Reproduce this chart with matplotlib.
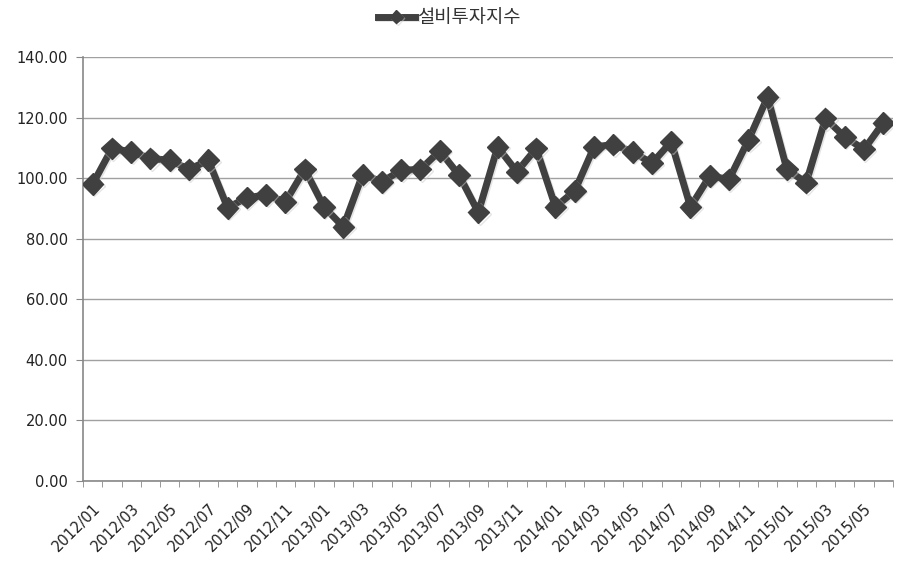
import matplotlib
matplotlib.use('Agg')
import matplotlib.pyplot as plt
import matplotlib.patheffects as pe
import numpy as np

# 월별 설비투자지수 (2012/01 ~ 2015/06)
months = [f'{y}/{m:02d}' for y in range(2012, 2016) for m in range(1, 13)][:42]
values = [98.0, 109.8, 108.7, 106.5, 105.9, 102.9, 105.9, 90.2, 93.6, 94.4,
          92.2, 102.9, 90.5, 83.9, 101.2, 98.8, 102.6, 102.9, 109.0, 101.0,
          88.7, 110.3, 102.1, 109.8, 90.5, 95.8, 110.3, 111.1, 108.7, 104.9,
          112.0, 90.5, 100.7, 99.6, 112.5, 126.8, 102.9, 98.5, 119.7, 113.6,
          109.5, 118.3]
series_name = '설비투자지수'
yticks = [0, 20, 40, 60, 80, 100, 120, 140]

plt.rcParams['font.family'] = ['Noto Sans CJK KR', 'DejaVu Sans']
tick_font = {'family': 'DejaVu Sans', 'size': 10.5}

fig = plt.figure(figsize=(8.98, 5.62), dpi=100)
ax = fig.add_axes([0.0924, 0.1441, 0.902, 0.7545])

x = np.arange(len(months))
shadow = [pe.SimpleLineShadow(offset=(1, -1), shadow_color='#cccccc', alpha=0.5), pe.Normal()]
ax.plot(x, values, color='#404040', lw=5, marker='D', markersize=11,
        label=series_name, path_effects=shadow, zorder=3)

ax.set_ylim(0, 140)
ax.set_xlim(-0.5, len(months) - 0.5)
ax.set_yticks(yticks)
ax.set_yticklabels([f'{v:.2f}' for v in yticks], fontdict=tick_font, color='#222222')
ax.yaxis.grid(True, color='#a0a0a0', lw=1)
ax.set_axisbelow(True)

ax.set_xticks(x[::2])
ax.set_xticklabels(months[::2], rotation=45, ha='right', rotation_mode='anchor',
                   fontdict=tick_font, color='#222222')
ax.set_xticks(np.arange(-0.5, len(months)), minor=True)
ax.tick_params(axis='x', which='major', length=0, pad=14)
ax.tick_params(axis='x', which='minor', length=4, color='#888888', direction='out')
ax.tick_params(axis='y', length=5, color='#888888', direction='out', pad=6)

for s in ['top', 'right']:
    ax.spines[s].set_visible(False)
for s in ['left', 'bottom']:
    ax.spines[s].set_color('#888888')
    ax.spines[s].set_linewidth(1.2)

# 범례: 그림 가운데 위쪽
handles, labels = ax.get_legend_handles_labels()
fig.legend(handles, labels, loc='center', bbox_to_anchor=(0.5, 0.968), frameon=False,
           prop={'family': 'Noto Sans CJK KR', 'size': 13.5}, labelcolor='#333333',
           handlelength=2.0, handletextpad=0.1, markerscale=0.6)

fig.savefig('out.png', dpi=100)
